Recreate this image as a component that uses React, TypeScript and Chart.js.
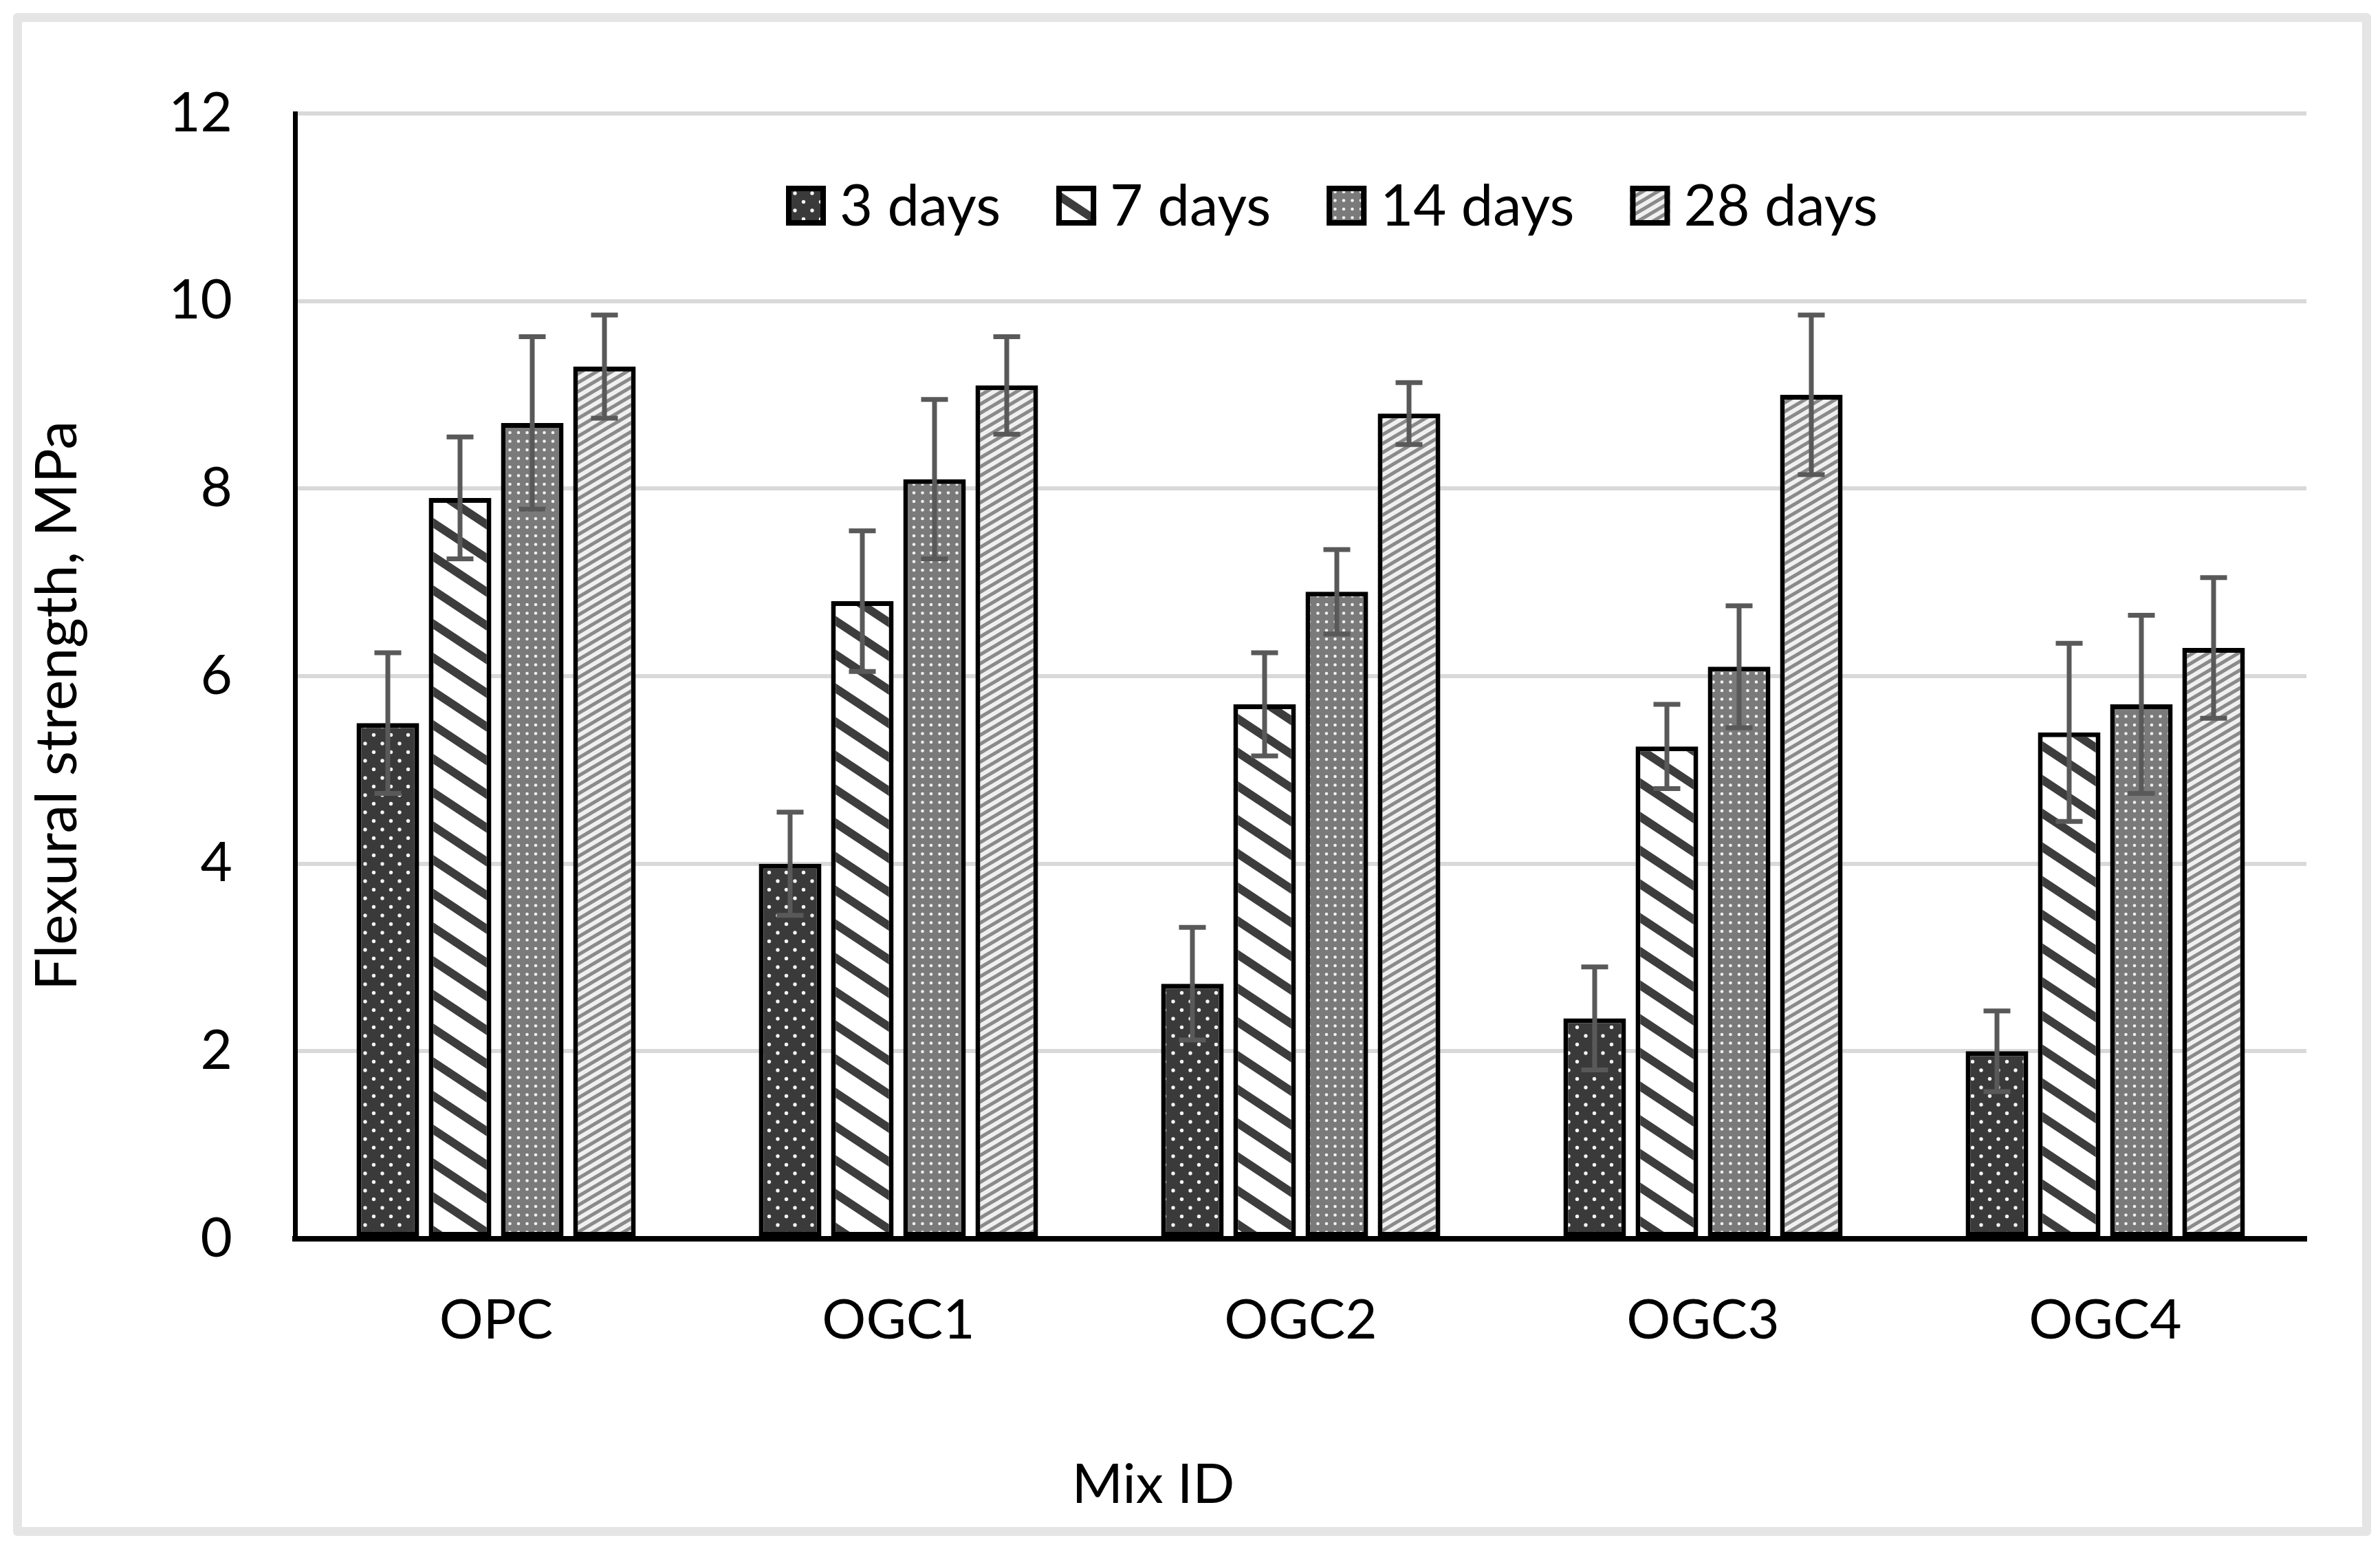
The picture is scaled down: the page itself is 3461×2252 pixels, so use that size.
import React, { useEffect, useRef } from 'react';
import { Chart, registerables } from 'chart.js';

Chart.register(...registerables);

// ---- data ----
const categories = ['OPC', 'OGC1', 'OGC2', 'OGC3', 'OGC4'];
const seriesLabels = ['3 days', '7 days', '14 days', '28 days'];
const days3 = [5.5, 4.0, 2.72, 2.35, 2.0];
const days7 = [7.9, 6.8, 5.7, 5.25, 5.4];
const days14 = [8.7, 8.1, 6.9, 6.1, 5.7];
const days28 = [9.3, 9.1, 8.8, 9.0, 6.3];
const err3 = [0.75, 0.55, 0.6, 0.55, 0.43];
const err7 = [0.65, 0.75, 0.55, 0.45, 0.95];
const err14 = [0.92, 0.85, 0.45, 0.65, 0.95];
const err28 = [0.55, 0.52, 0.33, 0.85, 0.75];
const yTicks = [0, 2, 4, 6, 8, 10, 12];
const yTitle = 'Flexural strength, MPa';
const xTitle = 'Mix ID';

const FONT = 'Lato, "Open Sans", sans-serif';
const FS = 80;

function tile(ctx: CanvasRenderingContext2D, w: number, h: number, draw: (g: CanvasRenderingContext2D) => void) {
  const c = document.createElement('canvas');
  c.width = w;
  c.height = h;
  const g = c.getContext('2d')!;
  draw(g);
  return ctx.createPattern(c, 'repeat')!;
}

function makePatterns(ctx: CanvasRenderingContext2D) {
  const dots3 = tile(ctx, 25, 25, (g) => {
    g.fillStyle = '#3a3a3a';
    g.fillRect(0, 0, 25, 25);
    g.fillStyle = '#f4f4f4';
    for (const [x, y] of [[6, 6], [18.5, 18.5]]) {
      g.beginPath();
      g.arc(x, y, 2.7, 0, Math.PI * 2);
      g.fill();
    }
  });
  const W7 = 74, H7 = 49;
  const stripes7 = tile(ctx, W7, H7, (g) => {
    g.fillStyle = '#ffffff';
    g.fillRect(0, 0, W7, H7);
    g.strokeStyle = '#3d3d3d';
    g.lineWidth = 12;
    for (const dy of [-H7, 0, H7]) {
      g.beginPath();
      g.moveTo(-W7, -H7 + dy);
      g.lineTo(2 * W7, 2 * H7 + dy);
      g.stroke();
    }
  });
  const dots14 = tile(ctx, 25, 25, (g) => {
    g.fillStyle = '#7a7a7a';
    g.fillRect(0, 0, 25, 25);
    g.fillStyle = '#f2f2f2';
    for (const [x, y] of [[4, 4], [16.5, 4], [4, 16.5], [16.5, 16.5]]) {
      g.beginPath();
      g.arc(x, y, 2.3, 0, Math.PI * 2);
      g.fill();
    }
  });
  const W28 = 22, H28 = 13;
  const stripes28 = tile(ctx, W28, H28, (g) => {
    g.fillStyle = '#f0f0f0';
    g.fillRect(0, 0, W28, H28);
    g.strokeStyle = '#8a8a8a';
    g.lineWidth = 5;
    for (const dy of [-H28, 0, H28]) {
      g.beginPath();
      g.moveTo(-W28, 2 * H28 + dy);
      g.lineTo(2 * W28, -H28 + dy);
      g.stroke();
    }
  });
  return [dots3, stripes7, dots14, stripes28];
}

const errorBarPlugin = {
  id: 'errorBars',
  afterDatasetsDraw(chart: any) {
    const { ctx } = chart;
    const y = chart.scales.y;
    ctx.save();
    ctx.strokeStyle = '#595959';
    ctx.lineWidth = 7;
    chart.data.datasets.forEach((ds: any, i: number) => {
      const meta = chart.getDatasetMeta(i);
      meta.data.forEach((bar: any, j: number) => {
        const v = ds.data[j];
        const e = ds.errors[j];
        const yt = y.getPixelForValue(v + e);
        const yb = y.getPixelForValue(v - e);
        const x = bar.x;
        const half = 19.5;
        ctx.beginPath();
        ctx.moveTo(x, yt);
        ctx.lineTo(x, yb);
        ctx.moveTo(x - half, yt);
        ctx.lineTo(x + half, yt);
        ctx.moveTo(x - half, yb);
        ctx.lineTo(x + half, yb);
        ctx.stroke();
      });
    });
    ctx.restore();
  },
};

const insideLegendPlugin = {
  id: 'insideLegend',
  afterDraw(chart: any) {
    const { ctx, chartArea } = chart;
    ctx.save();
    ctx.font = `83px ${FONT}`;
    ctx.textBaseline = 'middle';
    ctx.textAlign = 'left';
    const box = 58;
    const gap = 20;
    const itemGap = 81;
    let x = chartArea.left + 714;
    const yc = chartArea.top + 134;
    chart.data.datasets.forEach((ds: any) => {
      ctx.fillStyle = ds.backgroundColor;
      ctx.fillRect(x, yc - box / 2, box, box);
      ctx.lineWidth = 8;
      ctx.strokeStyle = '#000';
      ctx.strokeRect(x + 4, yc - box / 2 + 4, box - 8, box - 8);
      ctx.fillStyle = '#000';
      ctx.fillText(ds.label, x + box + gap, yc + 2);
      x += box + gap + ctx.measureText(ds.label).width + itemGap;
    });
    ctx.restore();
  },
};

const axisTitlesPlugin = {
  id: 'axisTitles',
  afterDraw(chart: any) {
    const { ctx, chartArea } = chart;
    ctx.save();
    ctx.fillStyle = '#000';
    ctx.textAlign = 'center';
    ctx.textBaseline = 'middle';
    ctx.font = `${FS}px ${FONT}`;
    ctx.fillText(xTitle, chartArea.left + 1248, chartArea.bottom + 358);
    ctx.font = `84px ${FONT}`;
    ctx.translate(chartArea.left - 345, chartArea.top + 861);
    ctx.rotate(-Math.PI / 2);
    ctx.fillText(yTitle, 0, 0);
    ctx.restore();
  },
};

export default function App() {
  const ref = useRef<HTMLCanvasElement>(null);

  useEffect(() => {
    const canvas = ref.current!;
    const ctx = canvas.getContext('2d')!;
    const pats = makePatterns(ctx);
    Chart.defaults.font.family = FONT;
    Chart.defaults.color = '#000';

    const values = [days3, days7, days14, days28];
    const errors = [err3, err7, err14, err28];

    const chart = new Chart(canvas, {
      type: 'bar',
      data: {
        labels: categories,
        datasets: seriesLabels.map((label, i) => ({
          label,
          data: values[i],
          errors: errors[i],
          backgroundColor: pats[i],
          borderColor: '#000',
          borderWidth: 7,
          borderSkipped: false,
          categoryPercentage: 0.718,
          barPercentage: 0.867,
        })) as any,
      },
      options: {
        animation: false,
        responsive: false,
        maintainAspectRatio: false,
        devicePixelRatio: 1,
        layout: { padding: { top: 165, right: 107, left: 0, bottom: 0 } },
        plugins: {
          legend: { display: false },
          tooltip: { enabled: false },
          title: { display: false },
        },
        scales: {
          x: {
            z: 1,
            grid: { display: false, drawTicks: false },
            border: { display: true, color: '#000', width: 8 },
            ticks: { font: { size: FS }, color: '#000', padding: 71 },
            afterFit: (s: any) => {
              s.height = 451;
            },
          },
          y: {
            min: 0,
            max: 12,
            grid: { color: '#d9d9d9', lineWidth: 6, drawTicks: false },
            border: { display: true, color: '#000', width: 7 },
            ticks: { font: { size: FS }, color: '#000', padding: 91 },
            afterBuildTicks: (s: any) => {
              s.ticks = yTicks.map((v) => ({ value: v }));
            },
            title: { display: false },
            afterFit: (s: any) => {
              s.width = 429;
            },
          },
        },
      },
      plugins: [errorBarPlugin, insideLegendPlugin, axisTitlesPlugin],
    } as any);

    return () => chart.destroy();
  }, []);

  return (
    <div style={{ position: 'absolute', left: 0, top: 0, width: 3461, height: 2252, background: '#fff' }}>
      <div
        style={{
          position: 'absolute',
          left: 19,
          top: 19,
          width: 3429,
          height: 2214,
          border: '13px solid #e5e5e5',
          borderRadius: 6,
          boxSizing: 'border-box',
        }}
      />
      <canvas
        ref={ref}
        width={3461}
        height={2252}
        style={{ position: 'absolute', left: 0, top: 0, width: 3461, height: 2252 }}
      />
    </div>
  );
}
